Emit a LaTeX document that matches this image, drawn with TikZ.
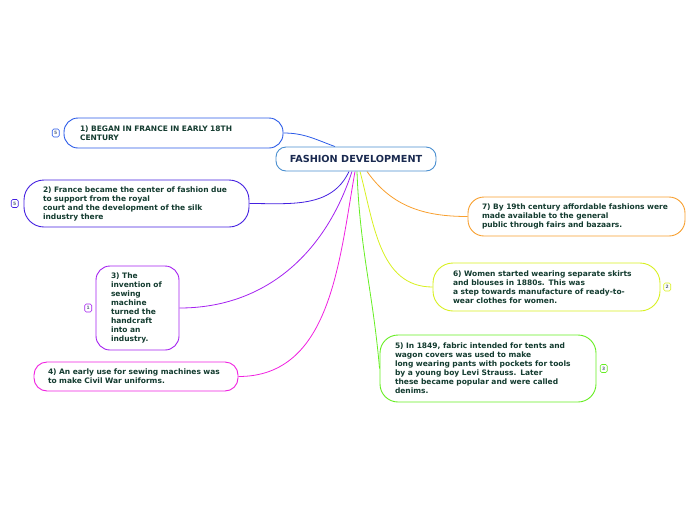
\documentclass[tikz,border=0pt]{standalone}
\usepackage{fontspec}
\setmainfont{DejaVu Sans}
\usepackage{tikz}
\usetikzlibrary{calc}
\usetikzlibrary{positioning}
\usetikzlibrary{backgrounds}
\definecolor{txt}{HTML}{143C30}
\definecolor{roottxt}{HTML}{1A2A50}
\definecolor{rootc}{HTML}{4A8FD0}
\definecolor{cA}{HTML}{2A5AE8}
\definecolor{cB}{HTML}{4420E0}
\definecolor{cC}{HTML}{A420F0}
\definecolor{cD}{HTML}{F020E0}
\definecolor{cE}{HTML}{66EE22}
\definecolor{cF}{HTML}{D8F020}
\definecolor{cG}{HTML}{F8A030}
\definecolor{badgetxt}{HTML}{5A6A80}

\begin{document}
\begin{tikzpicture}[x=1pt,y=-1pt]
% % Styles
 \tikzset{
 	topic/.style={draw=#1, line width=0.9pt, fill=white, align=left, text=txt,
 		font=\fontsize{7.5}{9}\selectfont\bfseries, inner ysep=0pt},
 	badge/.style={draw=#1, line width=0.6pt, rounded corners=1.5pt, fill=white,
 		text=badgetxt, font=\fontsize{4.5}{5}\selectfont\bfseries,
 		inner sep=0pt, minimum width=7pt, minimum height=8pt},
 	link/.style={draw=#1, line width=0.8pt}
 }
 \useasboundingbox (0,0) rectangle (696,520);
% % Central topic
 \node[draw=rootc, line width=0.9pt, rounded corners=10pt, fill=white, text=roottxt,
 	font=\fontsize{9.7}{11}\selectfont\bfseries, minimum width=160pt, minimum height=24pt]
 	(root) at (356,159) {FASHION DEVELOPMENT};
% % Topics
 \node[topic=cA, rounded corners=14pt, text width=187pt, inner xsep=16pt, minimum height=30pt]
 	(began) at (173.5,133) {1) BEGAN IN FRANCE IN EARLY 18TH\\CENTURY};
 \node[topic=cB, rounded corners=20pt, text width=187pt, inner xsep=19pt, minimum height=47pt]
 	(center) at (136.5,203.5) {2) France became the center of fashion due\\to support from the royal\\court and the development of the silk\\industry there};
 \node[topic=cC, rounded corners=14pt, text width=53pt, inner xsep=15pt, minimum height=84pt]
 	(sewing) at (137.5,308) {3) The\\invention of\\sewing\\machine\\turned the\\handcraft\\into an\\industry.};
 \node[topic=cD, rounded corners=13pt, text width=176pt, inner xsep=14pt, minimum height=29pt]
 	(war) at (136,376.5) {4) An early use for sewing machines was\\to make Civil War uniforms.};
 \node[topic=cE, rounded corners=18pt, text width=186pt, inner xsep=15pt, minimum height=67pt]
 	(denim) at (488,368.5) {5) In 1849, fabric intended for tents and\\wagon covers was used to make\\long wearing pants with pockets for tools\\by a young boy Levi Strauss. Later\\these became popular and were called\\denims.};
 \node[topic=cF, rounded corners=20pt, text width=187pt, inner xsep=20pt, minimum height=48pt]
 	(skirts) at (546.5,287) {6) Women started wearing separate skirts\\and blouses in 1880s. This was\\a step towards manufacture of ready-to-\\wear clothes for women.};
 \node[topic=cG, rounded corners=16pt, text width=189pt, inner xsep=14pt, minimum height=39pt]
 	(fairs) at (576.5,216.5) {7) By 19th century affordable fashions were\\made available to the general\\public through fairs and bazaars.};
% % Badges
 \node[badge=cA, left=4pt of began] (bA) {5};
 \node[badge=cB, left=5pt of center] (bB) {5};
 \node[badge=cC, left=3.5pt of sewing] (bC) {1};
 \node[badge=cF, right=3pt of skirts] (bF) {2};
 \node[badge=cE, right=3.5pt of denim] (bE) {3};
% % Links
 \begin{scope}[on background layer]
 \draw[link=cA] (began.east) to[out=0,in=160] ([xshift=-21pt]root.north);
 \draw[link=cB] (center.east) to[out=0,in=-115] ([xshift=-7pt]root.south);
 \draw[link=cC] (sewing.east) to[out=0,in=-108] ([xshift=-4pt]root.south);
 \draw[link=cD] (war.east) to[out=0,in=-100] ([xshift=-1pt]root.south);
 \draw[link=cE] (denim.west) to[out=95,in=-88] ([xshift=1pt]root.south);
 \draw[link=cF] (skirts.west) to[out=180,in=-75] ([xshift=4pt]root.south);
 \draw[link=cG] (fairs.west) to[out=180,in=-55] ([xshift=11pt]root.south);
 \end{scope}
\end{tikzpicture}
\end{document}
